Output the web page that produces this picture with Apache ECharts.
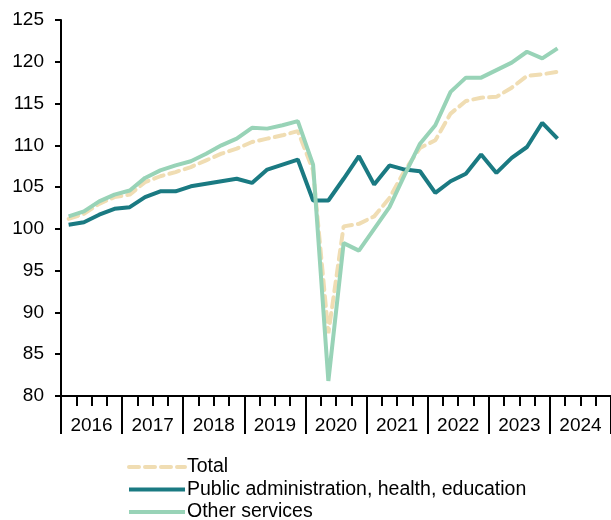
<!DOCTYPE html>
<html>
<head>
<meta charset="utf-8">
<script src="https://cdn.jsdelivr.net/npm/echarts@6/dist/echarts.min.js"></script>
<style>
  html, body { margin: 0; padding: 0; background: #fff; }
  #chart { width: 611px; height: 520px; }
</style>
</head>
<body>
<div id="chart"></div>
<script>
// quarters 2016Q1 .. 2024Q4, data up to 2024Q1
const years = ['2016', '2017', '2018', '2019', '2020', '2021', '2022', '2023', '2024'];
const quarters = [];
years.forEach(y => { for (let q = 1; q <= 4; q++) quarters.push(y + 'Q' + q); });

const total = [101.2, 101.8, 103.0, 103.8, 104.1, 105.6, 106.3, 106.8, 107.4, 108.2, 109.0, 109.6,
  110.4, 110.8, 111.2, 111.7, 107.0, 87.5, 100.3, 100.6, 101.5, 103.7, 107.0, 109.7,
  110.6, 113.8, 115.3, 115.7, 115.8, 116.9, 118.3, 118.5, 118.8];
const publicAdmin = [100.5, 100.8, 101.7, 102.4, 102.6, 103.8, 104.5, 104.5, 105.1, 105.4, 105.7, 106.0,
  105.5, 107.1, 107.7, 108.3, 103.4, 103.4, 106.0, 108.7, 105.3, 107.6, 107.1, 106.9,
  104.3, 105.7, 106.6, 108.9, 106.7, 108.5, 109.8, 112.7, 110.8];
const otherServices = [101.5, 102.1, 103.3, 104.1, 104.6, 106.1, 107.0, 107.6, 108.1, 109.0, 110.0, 110.8,
  112.1, 112.0, 112.4, 112.9, 107.7, 81.8, 98.3, 97.4, 100.0, 102.6, 106.5, 110.2,
  112.4, 116.4, 118.1, 118.1, 119.0, 119.9, 121.2, 120.4, 121.6];

const font = 'Liberation Sans, Arial, sans-serif';
const chart = echarts.init(document.getElementById('chart'));
chart.setOption({
  animation: false,
  textStyle: { fontFamily: font },
  grid: { left: 61, right: 0, top: 20, bottom: 124 },
  legend: {
    orient: 'vertical',
    left: 127,
    top: 457,
    width: 460,
    height: 90,
    padding: 0,
    itemWidth: 56,
    itemHeight: 12,
    itemGap: 2.5,
    itemStyle: { opacity: 0 },
    lineStyle: { width: 4 },
    textStyle: { fontSize: 19.5, color: '#000', fontFamily: font, padding: [0, 0, 0, -3] },
    data: ['Total', 'Public administration, health, education', 'Other services']
  },
  xAxis: [
    {
      type: 'category',
      data: quarters,
      position: 'bottom',
      boundaryGap: true,
      axisLine: { lineStyle: { color: '#000', width: 2 } },
      axisTick: { show: true, interval: 0, length: 10, lineStyle: { color: '#000', width: 2 } },
      axisLabel: { show: false }
    },
    {
      type: 'category',
      data: years,
      position: 'bottom',
      offset: 0,
      boundaryGap: true,
      axisLine: { show: false },
      axisTick: { show: true, interval: 0, length: 38, lineStyle: { color: '#000', width: 2 } },
      axisLabel: { interval: 0, fontSize: 19, color: '#000', margin: 20, fontFamily: font }
    }
  ],
  yAxis: {
    type: 'value',
    min: 80,
    max: 125,
    interval: 5,
    splitLine: { show: false },
    axisLine: { show: true, lineStyle: { color: '#000', width: 2 } },
    axisTick: { show: true, length: 6, lineStyle: { color: '#000', width: 2 } },
    axisLabel: { fontSize: 19, color: '#000', margin: 17, fontFamily: font }
  },
  series: [
    {
      name: 'Total',
      type: 'line',
      data: total,
      symbol: 'none',
      lineStyle: { color: '#f0ddb3', width: 4, type: [10, 6], cap: 'round' },
      itemStyle: { color: '#f0ddb3' }
    },
    {
      name: 'Public administration, health, education',
      type: 'line',
      data: publicAdmin,
      symbol: 'none',
      lineStyle: { color: '#1a7a82', width: 4 },
      itemStyle: { color: '#1a7a82' }
    },
    {
      name: 'Other services',
      type: 'line',
      data: otherServices,
      symbol: 'none',
      lineStyle: { color: '#98d3b7', width: 4 },
      itemStyle: { color: '#98d3b7' }
    }
  ]
});
</script>
</body>
</html>
